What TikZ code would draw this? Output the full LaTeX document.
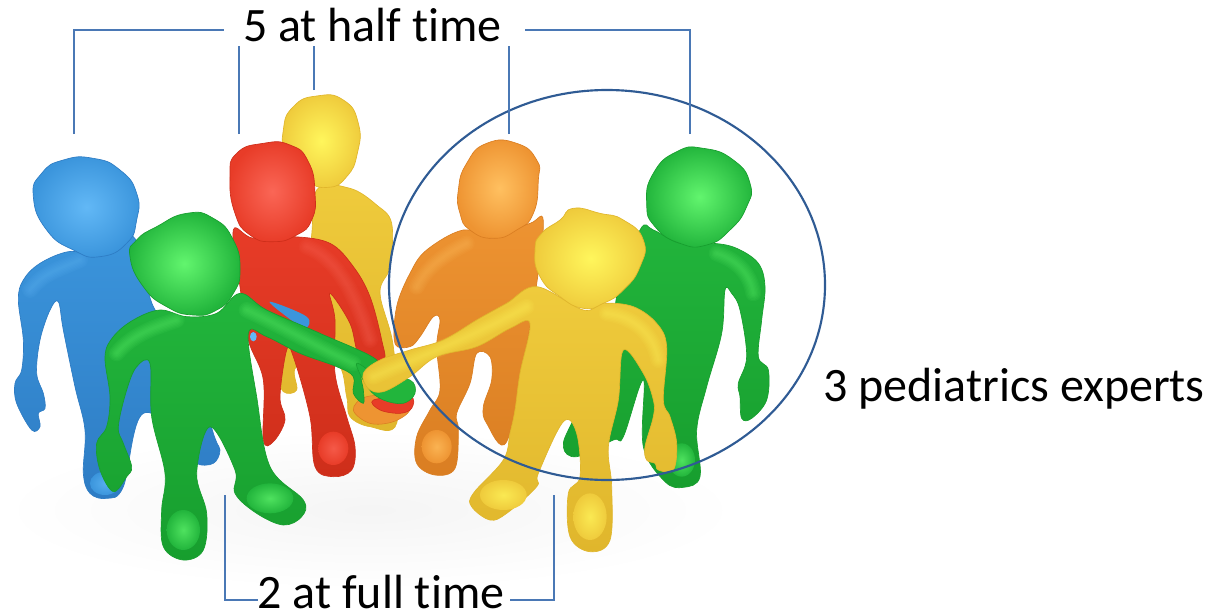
\documentclass[tikz,border=0pt]{standalone}
\usepackage{fontspec}
\setmainfont[Ligatures=NoCommon]{Carlito}
\definecolor{linec}{HTML}{4A78B5}
\definecolor{circc}{HTML}{2F5B94}
\definecolor{bl}{HTML}{3B95DC}\definecolor{blL}{HTML}{62B8F6}\definecolor{blD}{HTML}{2E7CC4}
\definecolor{gr}{HTML}{22B53C}\definecolor{grL}{HTML}{62F56E}\definecolor{grD}{HTML}{179E2E}
\definecolor{rd}{HTML}{E83C28}\definecolor{rdL}{HTML}{FA6656}\definecolor{rdD}{HTML}{CE2E1A}
\definecolor{yl}{HTML}{EFCB3C}\definecolor{ylL}{HTML}{FFF65C}\definecolor{ylD}{HTML}{E0B62C}
\definecolor{or}{HTML}{EE9432}\definecolor{orL}{HTML}{FFC060}\definecolor{orD}{HTML}{DA7E22}
\tikzset{
  conn/.style={draw=linec,line width=1.1pt},
  lbl/.style={font=\fontsize{36}{36}\selectfont,inner sep=0pt,text=black,anchor=base},
  bodyb/.style={draw=#1D,line width=.5pt,top color=#1,bottom color=#1D},
  headb/.style={draw=#1D,line width=.5pt,inner color=#1L,outer color=#1},
  spot/.style={inner color=#1L!70!#1,outer color=#1},
  glow/.style={draw=#1L,line cap=round,opacity=.08},
  sm/.style={smooth cycle,tension=0.6},
  smh/.style={smooth cycle,tension=0.9},
  zone/.style={x=.25pt,y=-.25pt},
}
\newcommand\glowline[2]{%
  \draw[glow=#1,line width=12pt] #2;
  \draw[glow=#1,line width=10pt] #2;
  \draw[glow=#1,line width=8pt] #2;
  \draw[glow=#1,line width=6pt] #2;
  \draw[glow=#1,line width=4pt] #2;
  \draw[glow=#1,line width=2pt] #2;}
\begin{document}
\begin{tikzpicture}[x=.75pt,y=-.75pt]
\useasboundingbox (0,0) rectangle (1223,614);
% ground shadow
\shade[inner color=black!4,outer color=white] (370,510) ellipse (370 and 80);
\begin{scope}[shift={(0pt,-60pt)},zone]
 % back yellow
 \path[bodyb=yl] plot[sm] coordinates {(950,330)(1050,325)(1130,375)(1175,430)(1170,560)(1140,640)(1180,800)(1190,1030)(1110,1040)(1050,1010)(1040,950)(1010,850)(890,860)(890,930)(850,935)(835,880)(860,800)(930,500)};
 \path[headb=yl] plot[smh] coordinates {(850,150)(880,80)(950,48)(1030,60)(1075,130)(1072,220)(1040,290)(985,322)(920,300)(860,230)};
 % blue
 \path[bodyb=bl] plot[sm] coordinates {(205,515)(120,550)(70,600)(55,660)(70,780)(65,870)(45,910)(50,970)(95,1050)(120,1040)(115,1000)(135,985)(130,940)(110,880)(120,780)(150,690)(175,665)(190,750)(225,920)(255,1050)(250,1180)(270,1240)(320,1255)(370,1220)(430,1000)(580,1100)(590,1150)(640,1150)(660,1110)(640,1060)(560,800)(460,680)(400,470)(290,520)};
 \glowline{bl}{(90,630) .. controls (130,580) and (170,570) .. (240,540)}
 \path[headb=bl] plot[smh] coordinates {(100,350)(125,280)(190,240)(280,235)(360,270)(410,340)(410,420)(380,490)(300,530)(220,510)(140,450)};
 \path[spot=bl] (315,1210) ellipse (45 and 35);
 % red
 \path[bodyb=rd] plot[sm] coordinates {(700,450)(760,475)(880,470)(990,490)(1060,560)(1110,650)(1145,780)(1150,840)(1080,830)(1050,730)(990,640)(1005,720)(1005,880)(1040,1010)(1065,1100)(1055,1170)(1000,1190)(945,1160)(930,1010)(880,830)(860,810)(840,950)(855,1020)(820,1085)(790,1080)(790,900)(745,780)(720,620)};
 \glowline{rd}{(920,500) .. controls (1000,530) and (1060,620) .. (1110,780)}
 \path[headb=rd] plot[smh] coordinates {(690,290)(710,220)(790,190)(870,195)(925,245)(945,340)(935,420)(890,465)(820,485)(750,465)(705,400)};
 \path[spot=rd] (1000,1105) ellipse (45 and 50);
\end{scope}
\begin{scope}[shift={(270pt,-60pt)},zone]
 % right green
 \path[bodyb=gr] plot[sm] coordinates {(840,450)(880,450)(960,490)(1060,490)(1130,505)(1195,550)(1215,620)(1205,720)(1195,830)(1225,870)(1220,960)(1175,1015)(1145,1015)(1140,950)(1135,910)(1160,830)(1140,690)(1115,640)(1095,630)(1085,760)(1040,920)(1010,1050)(1020,1190)(970,1222)(915,1205)(850,1100)(850,900)(790,1070)(760,1080)(650,1130)(610,1100)(640,1020)(760,800)(770,650)};
 \glowline{gr}{(1070,520) .. controls (1130,540) and (1170,580) .. (1180,640)}
 \path[headb=gr] plot[smh] coordinates {(860,370)(880,280)(950,215)(1030,205)(1120,240)(1170,310)(1160,380)(1110,450)(1040,495)(960,490)(885,440)};
 \path[spot=gr] (965,1140) ellipse (40 and 50);
 % orange
 \path[bodyb=or] plot[sm] coordinates {(310,450)(200,510)(150,580)(110,680)(105,790)(150,800)(180,770)(220,710)(240,720)(230,800)(240,930)(210,990)(170,1070)(170,1150)(225,1185)(285,1165)(295,1050)(290,1000)(330,910)(350,820)(390,830)(395,900)(370,980)(380,1030)(440,1085)(500,800)(550,440)(510,430)(400,475)};
 \glowline{or}{(170,620) .. controls (200,560) and (260,520) .. (320,490)}
 \path[headb=or] plot[smh] coordinates {(295,330)(320,250)(380,190)(470,190)(530,240)(535,300)(520,400)(470,450)(400,475)(330,450)(300,400)};
 \path[spot=or] (230,1100) ellipse (45 and 50);
 % stacked hands
 \path[fill=or,draw=orD,line width=.4pt] plot[sm] coordinates {(-20,990)(30,1030)(100,1025)(150,990)(130,950)(20,950)};
 \path[fill=rd,draw=rdD,line width=.4pt] plot[sm] coordinates {(40,960)(60,990)(120,1000)(155,985)(150,950)};
\end{scope}
\begin{scope}[shift={(0pt,-60pt)},zone]
 % patch of blue behind front green arm
 \path[fill=bl] plot[sm] coordinates {(810,665)(920,710)(915,745)(860,710)};
 \path[fill=blL] (760,770) ellipse (10 and 14);
 % front green
 \path[bodyb=gr] plot[sm] coordinates {(480,690)(400,720)(340,770)(315,830)(330,950)(320,1040)(290,1090)(300,1170)(340,1235)(380,1190)(395,1160)(370,1090)(355,1040)(380,930)(410,860)(450,850)(455,1010)(495,1180)(485,1290)(490,1400)(550,1440)(610,1410)(620,1300)(590,1180)(630,1040)(705,1170)(705,1240)(770,1300)(850,1335)(905,1310)(910,1260)(810,1160)(770,950)(745,760)(800,770)(900,820)(1010,860)(1060,890)(1060,940)(1090,970)(1090,930)(1085,880)(1130,840)(960,760)(800,690)(720,640)(650,700)(560,710)};
 \glowline{gr}{(350,820) .. controls (400,760) and (470,740) .. (530,720)}
 \glowline{gr}{(740,690) .. controls (830,730) and (950,800) .. (1060,850)}
 \path[headb=gr] plot[smh] coordinates {(390,530)(410,480)(470,440)(560,400)(640,415)(700,480)(720,570)(700,640)(650,690)(580,705)(500,680)(430,620)};
 \path[spot=gr] (550,1350) ellipse (50 and 60);
 \path[spot=gr] (810,1255) ellipse (70 and 45);
\end{scope}
\begin{scope}[shift={(270pt,-60pt)},zone]
 % green hand
 \path[fill=gr,draw=grD,line width=.4pt] plot[sm] coordinates {(-10,850)(25,925)(70,960)(130,970)(165,940)(150,900)(60,890)};
 % front yellow
 \path[bodyb=yl] plot[sm] coordinates {(530,620)(440,670)(350,720)(250,780)(150,810)(60,840)(10,880)(25,925)(70,935)(150,890)(230,830)(350,800)(450,745)(510,730)(480,880)(465,990)(450,1060)(430,1140)(340,1240)(335,1280)(390,1320)(440,1300)(530,1220)(535,1180)(610,1025)(650,1060)(660,1190)(625,1240)(630,1370)(690,1415)(750,1380)(755,1220)(745,1100)(775,960)(790,810)(850,880)(880,960)(880,1010)(855,1100)(860,1140)(885,1150)(895,1170)(940,1170)(950,1090)(930,1010)(910,960)(920,800)(890,730)(820,680)(730,670)(670,690)};
 \glowline{yl}{(40,890) .. controls (180,830) and (340,770) .. (500,680)}
 \glowline{yl}{(740,700) .. controls (820,710) and (880,760) .. (895,840)}
 \path[headb=yl] plot[smh] coordinates {(525,510)(545,460)(600,420)(640,385)(720,400)(790,420)(850,480)(840,560)(790,630)(730,670)(670,685)(600,650)(540,590)};
 \path[spot=yl] (690,1310) ellipse (50 and 70);
 \path[spot=yl] (430,1245) ellipse (70 and 45);
\end{scope}
% labels
\node[lbl] (half) at (372.5,41) {5 at half time};
\node[lbl] (full) at (381,608) {2 at full time};
\node[lbl] (peds) at (1014,401) {3 pediatrics experts};
% ring
\coordinate (ringc) at (607,285);
\draw[circc,line width=1.6pt] (ringc) ellipse (218 and 195);
% connectors
\coordinate (a1) at (74,134);\coordinate (a2) at (74,30);\coordinate (a3) at (224,30);
\coordinate (b1) at (239,134);\coordinate (b2) at (239,46);
\coordinate (c1) at (314,90);\coordinate (c2) at (314,46);
\coordinate (d1) at (509,134);\coordinate (d2) at (509,46);
\coordinate (e1) at (690,134);\coordinate (e2) at (690,30);\coordinate (e3) at (525,30);
\coordinate (f1) at (225,495);\coordinate (f2) at (225,600);\coordinate (f3) at (258,600);
\coordinate (g1) at (554,495);\coordinate (g2) at (554,600);\coordinate (g3) at (510,600);
\draw[conn] (a1)--(a2)--(a3);
\draw[conn] (b1)--(b2);
\draw[conn] (c1)--(c2);
\draw[conn] (d1)--(d2);
\draw[conn] (e1)--(e2)--(e3);
\draw[conn] (f1)--(f2)--(f3);
\draw[conn] (g1)--(g2)--(g3);
\end{tikzpicture}
\end{document}
